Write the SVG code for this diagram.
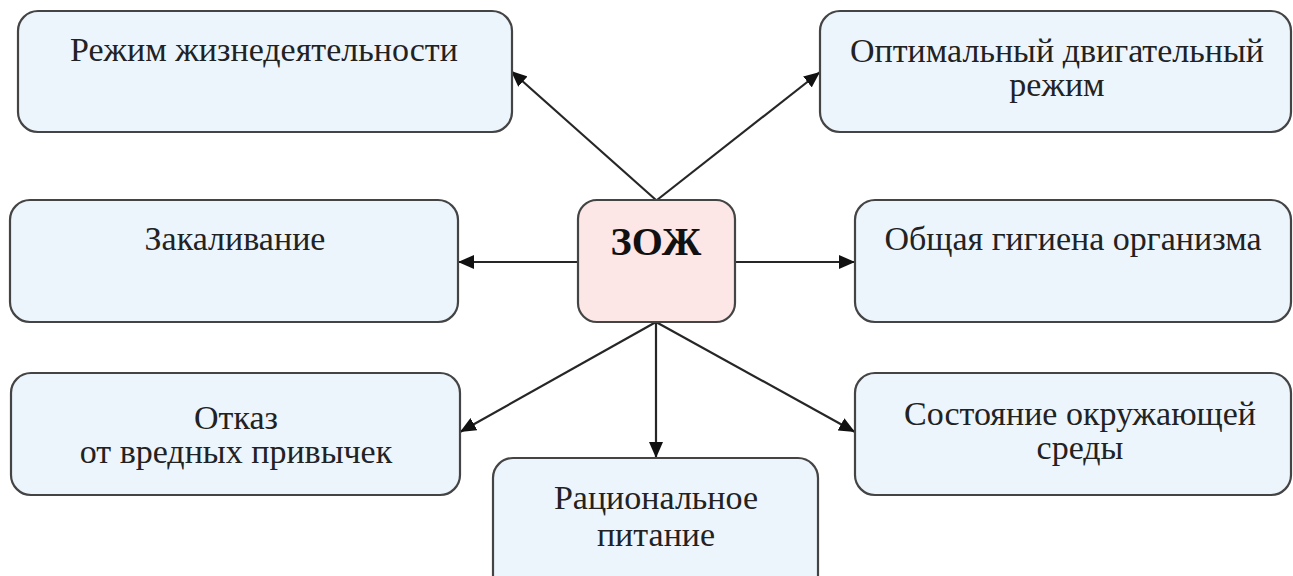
<svg xmlns="http://www.w3.org/2000/svg" width="1293" height="576" viewBox="0 0 1293 576">
<style>
.n{fill:#ecf5fc;stroke:#444;stroke-width:2.2}
.c{fill:#fce6e6;stroke:#444;stroke-width:2.2}
.t{font-family:'Liberation Serif','Times New Roman',serif;font-size:34px;fill:#222;text-anchor:middle}
.b{font-family:'Liberation Serif','Times New Roman',serif;font-size:40px;font-weight:bold;fill:#111;text-anchor:middle}
.l{stroke:#262626;stroke-width:2.2;fill:none;marker-end:url(#a)}
</style>
<defs>
<marker id="a" viewBox="0 0 16 14" refX="16" refY="7" markerWidth="16" markerHeight="14" markerUnits="userSpaceOnUse" orient="auto">
<path d="M0,0 L16,7 L0,14 z" fill="#111"/>
</marker>
</defs>
<rect width="1293" height="576" fill="#fff"/>
<g id="connectors">
<line class="l" x1="656" y1="200" x2="511" y2="71"/>
<line class="l" x1="657" y1="200" x2="820" y2="72"/>
<line class="l" x1="578" y1="262" x2="458" y2="262"/>
<line class="l" x1="735" y1="262" x2="855" y2="262"/>
<line class="l" x1="656" y1="322" x2="460" y2="432"/>
<line class="l" x1="656" y1="322" x2="656" y2="458"/>
<line class="l" x1="656" y1="322" x2="855" y2="432"/>
</g>
<g id="n1"><rect class="n" x="18" y="11" width="494" height="121" rx="20"/><text class="t" x="264" y="61">Режим жизнедеятельности</text></g>
<g id="n2"><rect class="n" x="820" y="11" width="471" height="121" rx="20"/><text class="t" x="1057" y="62">Оптимальный двигательный</text><text class="t" x="1057" y="96">режим</text></g>
<g id="n3"><rect class="n" x="10" y="200" width="448" height="122" rx="20"/><text class="t" x="235" y="250">Закаливание</text></g>
<g id="zozh"><rect class="c" x="578" y="200" width="157" height="122" rx="19"/><text class="b" x="656" y="255">ЗОЖ</text></g>
<g id="n4"><rect class="n" x="855" y="200" width="436" height="122" rx="20"/><text class="t" x="1073" y="250">Общая гигиена организма</text></g>
<g id="n5"><rect class="n" x="11" y="373" width="449" height="122" rx="20"/><text class="t" x="236" y="429">Отказ</text><text class="t" x="236" y="463">от вредных привычек</text></g>
<g id="n6"><rect class="n" x="855" y="373" width="436" height="122" rx="20"/><text class="t" x="1080" y="425">Состояние окружающей</text><text class="t" x="1080" y="459">среды</text></g>
<g id="n7"><rect class="n" x="493" y="458" width="325" height="140" rx="20"/><text class="t" x="656" y="509">Рациональное</text><text class="t" x="656" y="546">питание</text></g>
</svg>
